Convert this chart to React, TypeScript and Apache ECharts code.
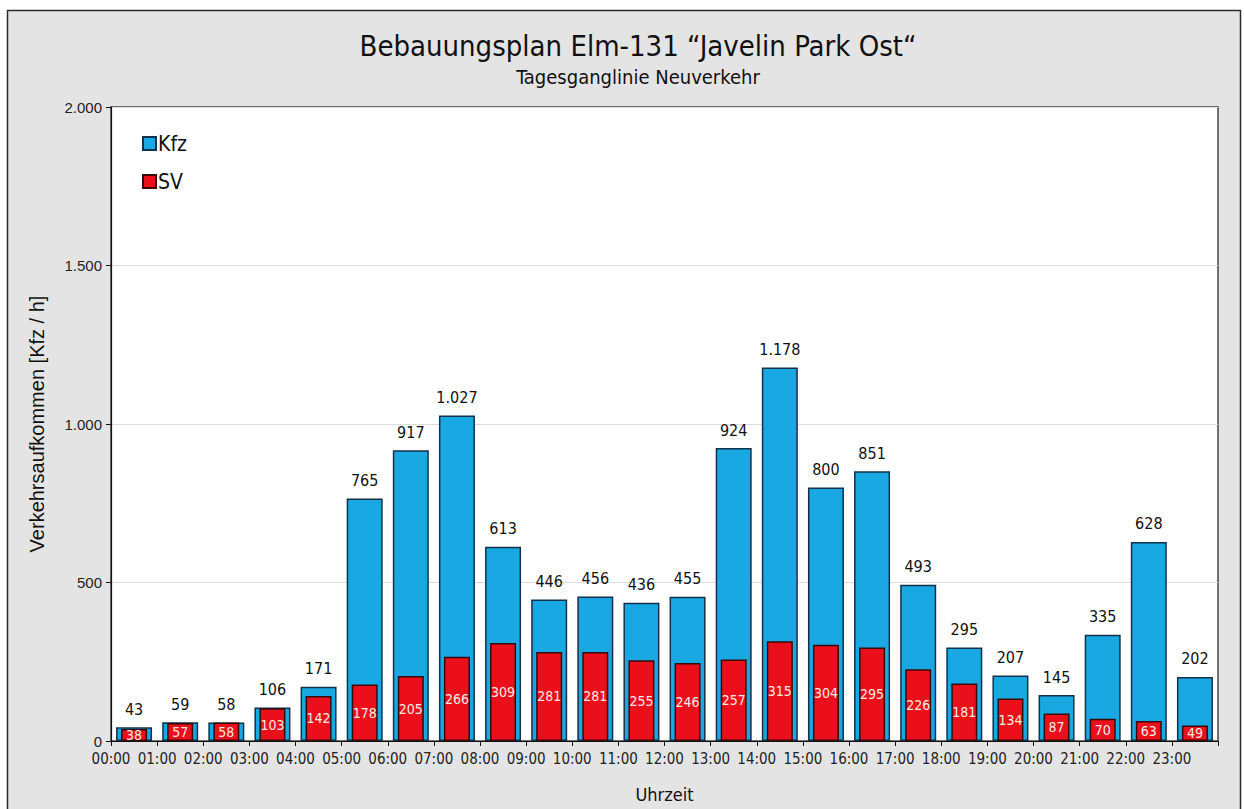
import React, { useEffect, useRef } from "react";
import * as echarts from "echarts";

// Hourly traffic for the development (vehicles per hour)
const hours: string[] = [
  "00:00", "01:00", "02:00", "03:00", "04:00", "05:00", "06:00", "07:00",
  "08:00", "09:00", "10:00", "11:00", "12:00", "13:00", "14:00", "15:00",
  "16:00", "17:00", "18:00", "19:00", "20:00", "21:00", "22:00", "23:00",
];
const kfz: number[] = [
  43, 59, 58, 106, 171, 765, 917, 1027, 613, 446, 456, 436,
  455, 924, 1178, 800, 851, 493, 295, 207, 145, 335, 628, 202,
];
const sv: number[] = [
  38, 57, 58, 103, 142, 178, 205, 266, 309, 281, 281, 255,
  246, 257, 315, 304, 295, 226, 181, 134, 87, 70, 63, 49,
];
const yTicks: number[] = [0, 500, 1000, 1500, 2000];

const COND = "'DejaVu Sans Condensed', 'Liberation Sans Narrow', 'Roboto', sans-serif";
const SANS = "'Liberation Sans', Arial, sans-serif";

const fmt = (v: number) => String(Math.round(v)).replace(/\B(?=(\d{3})+(?!\d))/g, ".");

const GRID = { left: 111, top: 107, width: 1107, height: 634 };

export default function App() {
  const ref = useRef<HTMLDivElement>(null);

  useEffect(() => {
    if (!ref.current) return;
    const chart = echarts.init(ref.current, undefined, { renderer: "svg" });
    chart.setOption({
      animation: false,
      backgroundColor: "#ffffff",
      graphic: [
        {
          type: "rect",
          z: -10,
          silent: true,
          shape: { x: 7.5, y: 10.5, width: 1233, height: 820 },
          style: { fill: "#e4e4e4", stroke: "#2a2a2a", lineWidth: 1.5 },
        },
      ],
      title: {
        text: "Bebauungsplan Elm-131 \u201CJavelin Park Ost\u201C",
        subtext: "Tagesganglinie Neuverkehr",
        left: 633,
        textAlign: "center",
        top: 26,
        itemGap: 7,
        textStyle: { fontFamily: COND, fontSize: 29, fontWeight: "normal", color: "#111" },
        subtextStyle: { fontFamily: COND, fontSize: 20, color: "#111" },
      },
      legend: {
        orient: "vertical",
        left: 137,
        top: 128,
        itemWidth: 13,
        itemHeight: 13,
        itemGap: 17,
        icon: "rect",
        textStyle: { fontFamily: COND, fontSize: 21, color: "#111", padding: [0, 0, 0, -3] },
        data: ["Kfz", "SV"],
      },
      grid: {
        ...GRID,
        show: true,
        backgroundColor: "#ffffff",
        borderColor: "#444",
        borderWidth: 1.5,
        containLabel: false,
      },
      xAxis: [
        {
          type: "category",
          data: hours,
          boundaryGap: true,
          axisLine: { lineStyle: { color: "#111", width: 1.2 } },
          axisTick: { show: true, inside: false, length: 5, lineStyle: { color: "#111" } },
          axisLabel: { show: false },
          splitLine: { show: false },
        },
        {
          type: "category",
          data: hours,
          show: false,
        },
        {
          type: "value",
          min: 0,
          max: 24,
          interval: 1,
          position: "bottom",
          axisLine: { show: false },
          axisTick: { show: false },
          splitLine: { show: false },
          axisLabel: {
            margin: 10,
            fontFamily: COND,
            fontSize: 15,
            color: "#222",
            showMaxLabel: false,
            formatter: (v: number) => (v >= 24 ? "" : hours[v]),
          },
          name: "Uhrzeit",
          nameLocation: "middle",
          nameGap: 44,
          nameTextStyle: { fontFamily: COND, fontSize: 18, color: "#111" },
        },
      ],
      yAxis: {
        type: "value",
        min: yTicks[0],
        max: yTicks[yTicks.length - 1],
        interval: 500,
        axisLine: { show: true, lineStyle: { color: "#111", width: 1.2 } },
        axisTick: { show: true, length: 5, lineStyle: { color: "#111" } },
        axisLabel: { fontFamily: SANS, fontSize: 15, color: "#222", margin: 9, formatter: fmt },
        splitLine: { show: true, lineStyle: { color: "#dcdcdc", width: 1 } },
        name: "Verkehrsaufkommen [Kfz / h]",
        nameLocation: "middle",
        nameGap: 64,
        nameTextStyle: { fontFamily: SANS, fontSize: 20, color: "#111" },
      },
      series: [
        {
          name: "Kfz",
          type: "bar",
          xAxisIndex: 0,
          data: kfz,
          barWidth: 36,
          itemStyle: { color: "#19a8e2", borderColor: "#12314a", borderWidth: 1.5 },
          label: {
            show: true,
            position: "top",
            distance: 10,
            fontFamily: COND,
            fontSize: 16,
            color: "#111",
            formatter: (p: any) => fmt(p.value),
          },
        },
        {
          name: "SV",
          type: "bar",
          xAxisIndex: 1,
          data: sv,
          barWidth: 26,
          itemStyle: { color: "#ea0f1b", borderColor: "#3a0a0a", borderWidth: 1.5 },
          label: {
            show: true,
            position: "inside",
            fontFamily: COND,
            fontSize: 14,
            color: "#f6ece0",
            formatter: (p: any) => fmt(p.value),
          },
        },
      ],
    });
    return () => chart.dispose();
  }, []);

  return (
    <div
      ref={ref}
      style={{ position: "fixed", left: 0, top: 0, width: 1244, height: 809 }}
    />
  );
}
